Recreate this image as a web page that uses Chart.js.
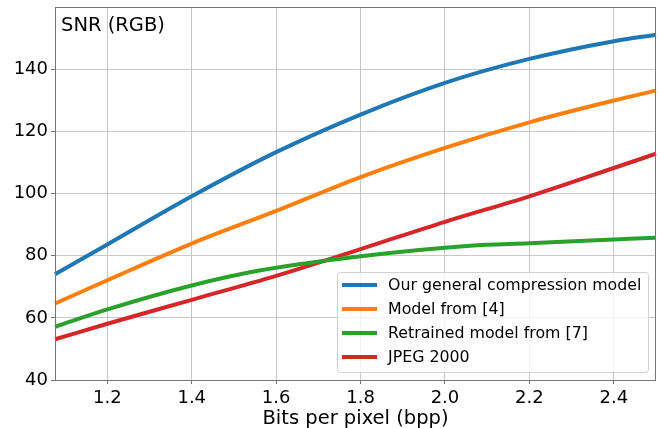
<!DOCTYPE html>
<html>
<head>
<meta charset="utf-8">
<script src="https://cdn.jsdelivr.net/npm/chart.js@4"></script>
<style>
  html, body { margin: 0; padding: 0; background: #fff; }
  #wrap { width: 660px; height: 428px; }
</style>
</head>
<body>
<div id="wrap"><canvas id="snrChart" width="660" height="428"></canvas></div>
<script>
// values
const bppBlue = [1.076, 1.2, 1.4, 1.6, 1.8, 2.0, 2.2, 2.4, 2.5];
const ourModel = [74.0, 83.6, 99.1, 113.3, 125.4, 135.6, 143.3, 149.0, 151.1];

const bppOrange = [1.076, 1.2, 1.4, 1.6, 1.8, 2.0, 2.2, 2.4, 2.5];
const model4 = [64.6, 72.1, 83.9, 94.4, 105.3, 114.7, 122.9, 129.9, 133.1];

const bppGreen = [1.076, 1.2, 1.4, 1.56, 1.8, 2.06, 2.2, 2.4, 2.5];
const retrained7 = [57.1, 62.7, 70.4, 75.2, 79.8, 83.2, 84.0, 85.2, 85.8];

const bppRed = [1.076, 1.2, 1.4, 1.6, 1.8, 2.0, 2.2, 2.4, 2.5];
const jpeg2000 = [53.1, 58.1, 65.8, 73.5, 82.1, 90.9, 99.1, 108.2, 112.8];

const xTicks = [1.2, 1.4, 1.6, 1.8, 2.0, 2.2, 2.4];
const yTicks = [40, 60, 80, 100, 120, 140];

const seriesNames = ['Our general compression model', 'Model from [4]', 'Retrained model from [7]', 'JPEG 2000'];
const seriesColors = ['#1f77b4', '#ff7f0e', '#2ca02c', '#d62728'];

function toPoints(xs, ys) {
  return xs.map((x, i) => ({ x: x, y: ys[i] }));
}

const FONT = 'DejaVu Sans';

// spines, panel title, axis title and the in-plot legend
const decorations = {
  id: 'decorations',
  afterDraw(chart) {
    const ctx = chart.ctx;
    const a = chart.chartArea;
    ctx.save();
    ctx.strokeStyle = '#777';
    ctx.lineWidth = 1;
    ctx.strokeRect(a.left + 0.5, a.top + 0.5, a.right - a.left - 1, a.bottom - a.top);

    ctx.fillStyle = '#000';
    ctx.font = '19.5px "' + FONT + '"';
    ctx.textAlign = 'left';
    ctx.textBaseline = 'alphabetic';
    ctx.fillText('SNR (RGB)', 61, 31);

    ctx.textAlign = 'center';
    ctx.fillText('Bits per pixel (bpp)', (a.left + a.right) / 2, 424);

    // legend box
    const bx = 337, by = 272, bw = 311, bh = 100;
    ctx.beginPath();
    ctx.roundRect(bx + 0.5, by + 0.5, bw, bh, 3);
    ctx.fillStyle = 'rgba(255,255,255,0.8)';
    ctx.fill();
    ctx.strokeStyle = '#d0d0d0';
    ctx.stroke();

    ctx.font = '15.8px "' + FONT + '"';
    ctx.textAlign = 'left';
    ctx.textBaseline = 'middle';
    seriesNames.forEach((name, i) => {
      const y = 285 + i * 24;
      ctx.strokeStyle = seriesColors[i];
      ctx.lineWidth = 4;
      ctx.beginPath();
      ctx.moveTo(342, y);
      ctx.lineTo(377, y);
      ctx.stroke();
      ctx.fillStyle = '#000';
      ctx.fillText(name, 388, y + 1);
    });
    ctx.restore();
  }
};

const datasets = [
  [bppBlue, ourModel],
  [bppOrange, model4],
  [bppGreen, retrained7],
  [bppRed, jpeg2000]
].map((pair, i) => ({
  label: seriesNames[i],
  data: toPoints(pair[0], pair[1]),
  borderColor: seriesColors[i],
  backgroundColor: seriesColors[i],
  borderWidth: 4,
  pointRadius: 0,
  showLine: true,
  cubicInterpolationMode: 'monotone',
  clip: 2
}));

const ctx = document.getElementById('snrChart').getContext('2d');
const snrChart = new Chart(ctx, {
  type: 'scatter',
  data: { datasets: datasets },
  options: {
    responsive: false,
    animation: false,
    devicePixelRatio: 1,
    layout: { padding: { top: 7, right: 4, left: 0, bottom: 0 } },
    plugins: {
      legend: { display: false },
      tooltip: { enabled: false }
    },
    scales: {
      x: {
        type: 'linear',
        min: 1.076,
        max: 2.5,
        afterBuildTicks: scale => { scale.ticks = xTicks.map(v => ({ value: v })); },
        afterFit: scale => {
          scale.height = 48;
          scale.paddingLeft = 0;
          scale.paddingRight = 0;
        },
        border: { display: false },
        grid: { color: '#c8c8c8', lineWidth: 1, tickLength: 4, tickColor: '#777' },
        ticks: {
          color: '#000',
          padding: 4,
          maxRotation: 0,
          font: { family: FONT, size: 18 },
          callback: v => v.toFixed(1)
        }
      },
      y: {
        type: 'linear',
        min: 40,
        max: 160,
        afterBuildTicks: scale => { scale.ticks = yTicks.map(v => ({ value: v })); },
        afterFit: scale => {
          scale.width = 55;
          scale.paddingTop = 0;
          scale.paddingBottom = 0;
        },
        border: { display: false },
        grid: { color: '#c8c8c8', lineWidth: 1, tickLength: 4, tickColor: '#777' },
        ticks: {
          color: '#000',
          padding: 3,
          font: { family: FONT, size: 18 }
        }
      }
    }
  },
  plugins: [decorations]
});
</script>
</body>
</html>
